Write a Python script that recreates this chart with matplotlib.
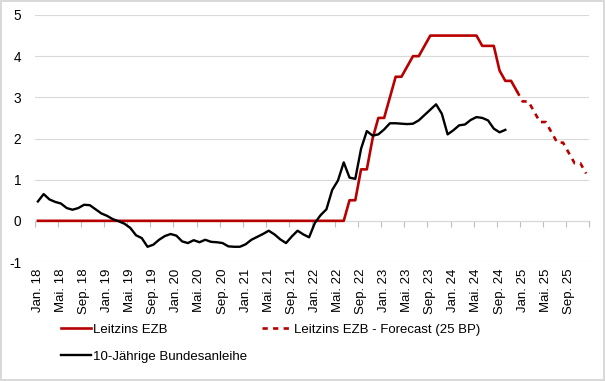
import numpy as np
import matplotlib
matplotlib.use("Agg")
from matplotlib import pyplot as plt
from matplotlib.lines import Line2D

plt.rcParams['font.family'] = ['Liberation Sans', 'DejaVu Sans']
plt.rcParams['axes.unicode_minus'] = False

# monthly categories Jan 18 .. Dec 25 (96 months), labels every 4 months
tick_labels = ["Jan. 18", "Mai. 18", "Sep. 18", "Jan. 19", "Mai. 19", "Sep. 19",
               "Jan. 20", "Mai. 20", "Sep. 20", "Jan. 21", "Mai. 21", "Sep. 21",
               "Jan. 22", "Mai. 22", "Sep. 22", "Jan. 23", "Mai. 23", "Sep. 23",
               "Jan. 24", "Mai. 24", "Sep. 24", "Jan. 25", "Mai. 25", "Sep. 25"]
n_months = 96

# Leitzins EZB, Jan 18 .. Dec 24
leitzins = [0.0] * 54 + [
    0.5, 0.5, 1.25, 1.25, 2.0, 2.5,
    2.5, 3.0, 3.5, 3.5, 3.75, 4.0, 4.0, 4.25, 4.5, 4.5, 4.5, 4.5,
    4.5, 4.5, 4.5, 4.5, 4.5, 4.25, 4.25, 4.25, 3.65, 3.4, 3.4, 3.15]

# Forecast (25 BP), Dec 24 .. Dec 25
forecast_start = 83
forecast = [3.15, 2.9, 2.9, 2.65, 2.4, 2.4, 2.15, 1.9, 1.9, 1.65, 1.4, 1.4, 1.15]

# 10-Jaehrige Bundesanleihe, Jan 18 .. Oct 24
bund = [0.47, 0.65, 0.52, 0.46, 0.42, 0.31, 0.27, 0.31, 0.39, 0.38, 0.28, 0.18,
        0.12, 0.04, -0.01, -0.07, -0.17, -0.35, -0.42, -0.63, -0.58, -0.46, -0.37, -0.32,
        -0.36, -0.50, -0.54, -0.47, -0.52, -0.46, -0.51, -0.52, -0.54, -0.62, -0.63, -0.63,
        -0.57, -0.46, -0.39, -0.32, -0.24, -0.33, -0.45, -0.54, -0.38, -0.24, -0.33, -0.40,
        -0.05, 0.14, 0.28, 0.75, 0.98, 1.42, 1.05, 1.02, 1.75, 2.18, 2.07, 2.10,
        2.22, 2.37, 2.37, 2.36, 2.35, 2.36, 2.44, 2.57, 2.70, 2.83, 2.60, 2.10,
        2.20, 2.32, 2.34, 2.45, 2.52, 2.50, 2.44, 2.24, 2.15, 2.21]

red = '#b80000'
grid_c = '#d9d9d9'

fig = plt.figure(figsize=(6.05, 3.81), dpi=100)
fig.patch.set_edgecolor(grid_c)
fig.patch.set_linewidth(1.5)
ax = fig.add_axes([35/605, 1 - 262/381, 554/605, 247/381])

ax.plot(np.arange(len(bund)), bund, color='black', lw=1.7, zorder=4)
ax.plot(np.arange(len(leitzins)), leitzins, color=red, lw=1.9, zorder=3)
ax.plot(np.arange(forecast_start, forecast_start + len(forecast)), forecast,
        color=red, lw=1.9, ls=(0, (2, 2)), zorder=3)

ymin, ymax = -1, 5
ax.set_ylim(ymin, ymax)
ax.set_xlim(-0.5, n_months - 0.5)
ax.set_yticks(range(-1, 6))
ax.grid(axis='y', color=grid_c, lw=0.8)
ax.set_axisbelow(True)
for s in ax.spines.values():
    s.set_visible(False)
ax.tick_params(axis='y', length=0, pad=10, labelsize=9.8)
ax.set_xticks(np.arange(0, n_months, 4))
ax.set_xticklabels(tick_labels, rotation=90)
ax.tick_params(axis='x', length=0, pad=4.5, labelsize=9.5)

# category axis crossing at 0 with tick marks between categories
sec = ax.secondary_xaxis((0 - ymin) / (ymax - ymin))
sec.set_xticks(np.arange(-0.5, n_months, 4))
sec.tick_params(axis='x', length=4, color='#bfbfbf', labelbottom=False, direction='out')
sec.spines['bottom'].set_color('#bfbfbf')
sec.spines['bottom'].set_zorder(1)

handles = [Line2D([], [], color=red, lw=1.9),
           Line2D([], [], color='black', lw=1.7),
           Line2D([], [], color=red, lw=1.9, ls=(0, (2, 2)))]
labels = ["Leitzins EZB", "10-Jährige Bundesanleihe", "Leitzins EZB - Forecast (25 BP)"]
fig.legend(handles, labels, ncol=2, loc='upper left', bbox_to_anchor=(49/605, 1 - 312/381),
           frameon=False, fontsize=9.5, handlelength=2.3, handletextpad=0.15,
           labelspacing=1.1, columnspacing=1.1)

fig.savefig("out.png", dpi=100)
